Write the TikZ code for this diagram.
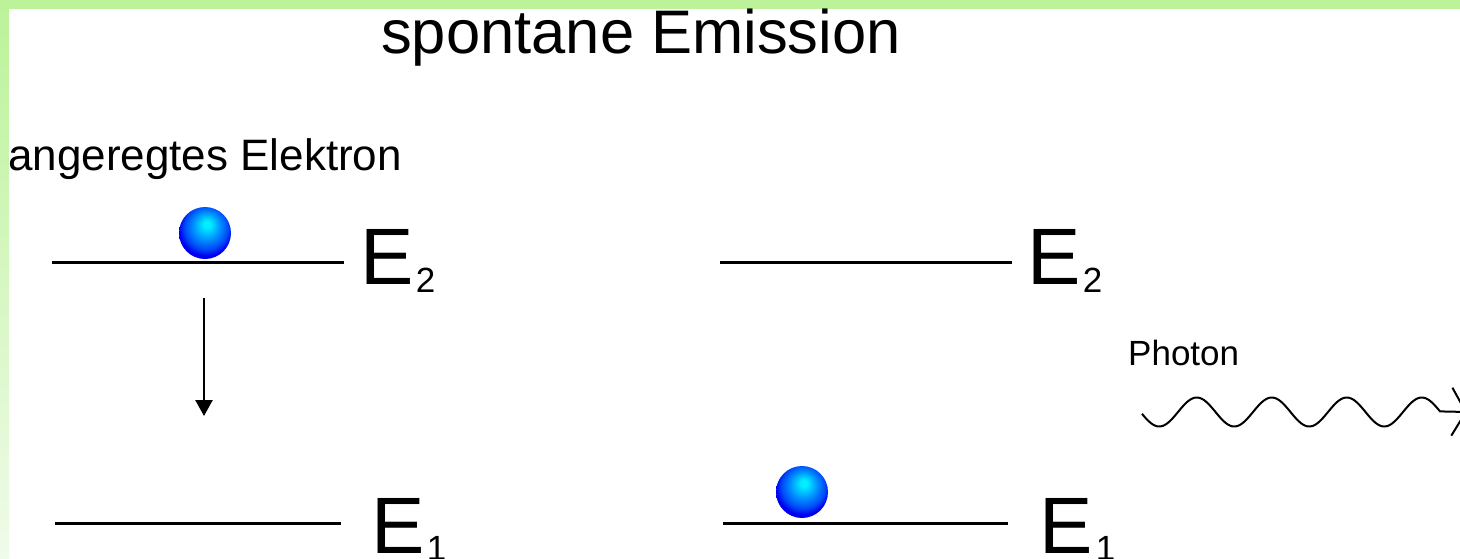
\documentclass[tikz,border=0pt]{standalone}
\usepackage{fontspec}
\setmainfont{Liberation Sans}
\usetikzlibrary{arrows.meta}
\definecolor{bandgreen}{HTML}{BCF39A}
\definecolor{bandpale}{HTML}{F0FBEA}
\definecolor{ballhi}{HTML}{00F0FF}
\definecolor{ballmid}{HTML}{0090FF}
\definecolor{ballout}{HTML}{0000F0}
\pgfdeclareradialshading{eball}{\pgfqpoint{2bp}{9bp}}{color(0bp)=(ballhi); color(3bp)=(ballhi); color(13bp)=(ballmid); color(21bp)=(ballmid!50!ballout); color(26bp)=(ballout); color(50bp)=(ballout)}
\tikzset{
  level/.style={line width=3pt},
  ball/.style={circle, inner sep=0pt, minimum size=52pt, shading=eball},
  elab/.style={anchor=base west, inner sep=0pt, font=\fontsize{80}{90}\selectfont},
  esub/.style={anchor=base west, inner sep=0pt, font=\fontsize{35}{40}\selectfont},
  txt/.style={inner sep=0pt},
  wave/.style={line width=2pt},
}
\begin{document}
\begin{tikzpicture}[x=1pt,y=-1pt]
\useasboundingbox (0,0) rectangle (1460,558);
% frame bands
\fill[bandgreen] (0,0) rectangle (1460,9);
\shade[top color=bandgreen, bottom color=bandpale] (0,9) rectangle (9,558);
% title and labels
\node[txt, anchor=base, font=\fontsize{61.5}{70}\selectfont] (title) at (641,53) {spontane Emission};
\node[txt, anchor=base west, font=\fontsize{44}{50}\selectfont] (exc) at (8,170) {angeregtes Elektron};
\node[txt, anchor=base west, font=\fontsize{35}{42}\selectfont] (phot) at (1128,365) {Photon};
% left levels
\coordinate (l2a) at (52,262); \coordinate (l2b) at (344,262);
\coordinate (l1a) at (55,523); \coordinate (l1b) at (341,523);
\draw[level] (l2a) -- (l2b);
\draw[level] (l1a) -- (l1b);
\node[elab] (le2) at (360,284) {E};
\node[esub] (le2s) at ([xshift=2pt,yshift=-8pt]le2.base east) {2};
\node[elab] (le1) at (371,553) {E};
\node[esub] (le1s) at ([xshift=2pt,yshift=-7pt]le1.base east) {1};
% right levels
\coordinate (r2a) at (720,262); \coordinate (r2b) at (1012,262);
\coordinate (r1a) at (723,523); \coordinate (r1b) at (1008,523);
\draw[level] (r2a) -- (r2b);
\draw[level] (r1a) -- (r1b);
\node[elab] (re2) at (1027,284) {E};
\node[esub] (re2s) at ([xshift=2pt,yshift=-8pt]re2.base east) {2};
\node[elab] (re1) at (1039,553) {E};
\node[esub] (re1s) at ([xshift=3pt,yshift=-7pt]re1.base east) {1};
% electrons
\node[ball] (b1) at (205,233) {};
\node[ball] (b2) at (802,492) {};
% transition arrow
\coordinate (a1) at (204,298);
\coordinate (a2) at (204,416);
\draw[line width=2.5pt, -{Triangle[length=16pt,width=17pt]}] (a1) -- (a2);
% photon wave
\coordinate (wtip) at (1467,412);
\draw[wave, line join=round, -{Straight Barb[length=14pt,width=48pt]}]
  plot[domain=1142:1440, samples=160, smooth] (\x,{412-14.5*sin(4.8*(\x-1178))}) -- (wtip);
\end{tikzpicture}
\end{document}
